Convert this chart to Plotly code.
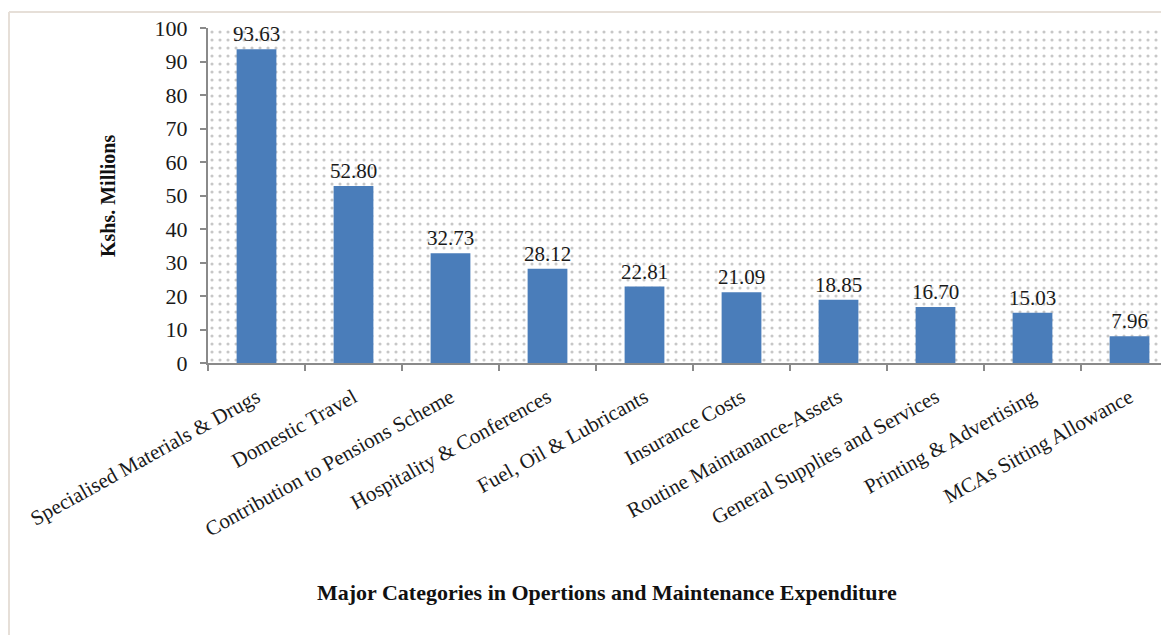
import plotly.graph_objects as go

categories = [
    "Specialised Materials & Drugs",
    "Domestic Travel",
    "Contribution to Pensions Scheme",
    "Hospitality & Conferences",
    "Fuel, Oil & Lubricants",
    "Insurance Costs",
    "Routine Maintanance-Assets",
    "General Supplies and Services",
    "Printing & Advertising",
    "MCAs Sitting Allowance",
]
values = [93.63, 52.80, 32.73, 28.12, 22.81, 21.09, 18.85, 16.70, 15.03, 7.96]
value_labels = ["93.63", "52.80", "32.73", "28.12", "22.81", "21.09", "18.85", "16.70", "15.03", "7.96"]
y_ticks = [0, 10, 20, 30, 40, 50, 60, 70, 80, 90, 100]

W, H = 1161, 635
ML, MR, MT, MB = 208, 0, 28, 272
pw = W - ML - MR
ph = H - MT - MB
cat_px = 97.0

FONT = "Liberation Serif, Times New Roman, serif"
AXIS_COL = "#8a8a8a"

fig = go.Figure()

# dotted plot-area background (decoration on hidden base axes)
fig.add_trace(go.Scatter(
    x=[0, 1, 1, 0, 0], y=[0, 0, 1, 1, 0],
    xaxis="x", yaxis="y",
    mode="none", fill="toself",
    fillcolor="white",
    fillpattern=dict(shape=".", size=8, solidity=0.12, fgcolor="#8f8f8f", bgcolor="white"),
    hoverinfo="skip", showlegend=False,
))

fig.add_trace(go.Bar(
    x=categories, y=values,
    xaxis="x2", yaxis="y2",
    marker=dict(color="#4a7dba", line=dict(width=0)),
    width=0.41,
    text=value_labels, textposition="outside",
    textfont=dict(family=FONT, size=21, color="#1a1a1a"),
    constraintext="none",
    cliponaxis=False,
    showlegend=False,
))

xmax = -0.5 + pw / cat_px

fig.update_layout(
    width=W, height=H,
    margin=dict(l=ML, r=MR, t=MT, b=MB, pad=0),
    paper_bgcolor="white",
    plot_bgcolor="white",
    xaxis=dict(range=[0, 1], visible=False, fixedrange=True),
    yaxis=dict(range=[0, 1], visible=False, fixedrange=True),
    xaxis2=dict(
        overlaying="x", side="bottom", anchor="y2",
        type="category", range=[-0.5, xmax],
        tickson="boundaries", ticks="outside", ticklen=6, tickwidth=2, tickcolor=AXIS_COL,
        showline=True, linecolor=AXIS_COL, linewidth=2,
        showgrid=False, tickangle=-29,
        ticklabelstandoff=12,
        tickfont=dict(family=FONT, size=21, color="#1a1a1a"),
    ),
    yaxis2=dict(
        overlaying="y", side="left", anchor="x2",
        range=[0, 100], tickvals=y_ticks,
        ticks="outside", ticklen=6, tickwidth=2, tickcolor=AXIS_COL,
        showline=True, linecolor=AXIS_COL, linewidth=2,
        showgrid=False, zeroline=False,
        ticklabelstandoff=8,
        tickfont=dict(family=FONT, size=22, color="#1a1a1a"),
    ),
    annotations=[
        dict(text="<b>Kshs. Millions</b>", textangle=-90,
             xref="paper", yref="paper",
             x=(108 - ML) / pw, y=(H - MB - 196) / ph, xanchor="center", yanchor="middle",
             showarrow=False, font=dict(family=FONT, size=20, color="#111")),
        dict(text="<b>Major Categories in Opertions and Maintenance Expenditure</b>",
             xref="paper", yref="paper",
             x=(607 - ML) / pw, y=(H - MB - 592) / ph, xanchor="center", yanchor="middle",
             showarrow=False, font=dict(family=FONT, size=22, color="#111")),
    ],
    shapes=[
        dict(type="line", xref="paper", yref="paper",
             x0=(9 - ML) / pw, x1=(9 - ML) / pw, y0=(H - MB - 12) / ph, y1=(H - MB - 700) / ph,
             line=dict(color="#e6dfd8", width=2)),
        dict(type="line", xref="paper", yref="paper",
             x0=(9 - ML) / pw, x1=(1300 - ML) / pw, y0=(H - MB - 12) / ph, y1=(H - MB - 12) / ph,
             line=dict(color="#e6dfd8", width=2)),
    ],
)

fig.write_html("out.html")
